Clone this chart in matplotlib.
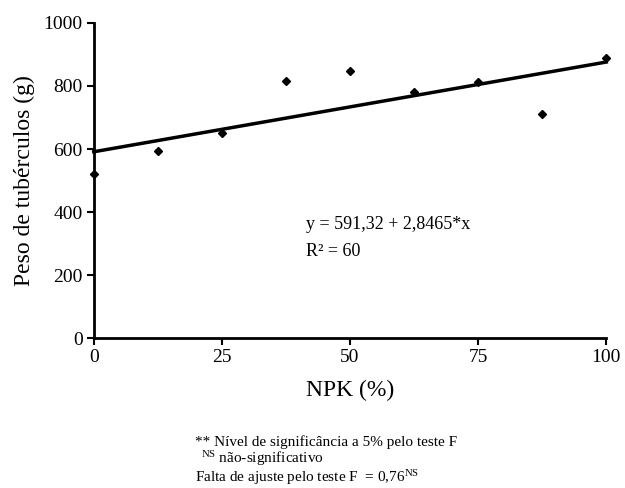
import matplotlib
matplotlib.use("Agg")
import matplotlib.pyplot as plt
import numpy as np

npk = [0, 12.5, 25, 37.5, 50, 62.5, 75, 87.5, 100]
peso = [520, 593, 652, 816, 848, 781, 813, 711, 889]
intercept = 591.32
slope = 2.8465
xticks = [0, 25, 50, 75, 100]
yticks = [0, 200, 400, 600, 800, 1000]

plt.rcParams['font.family'] = ['Liberation Serif', 'DejaVu Serif']
plt.rcParams['mathtext.fontset'] = 'custom'
plt.rcParams['mathtext.rm'] = 'Liberation Serif'
plt.rcParams['mathtext.it'] = 'Liberation Serif:italic'
plt.rcParams['mathtext.bf'] = 'Liberation Serif:bold'

fig = plt.figure(figsize=(6.25, 4.88), dpi=100)
ax = fig.add_axes([0.150, 0.307, 0.820, 0.646])

xl = np.array([0, 100])
ax.plot(xl, intercept + slope * xl, color='black', lw=2.5, zorder=2, clip_on=False)
ax.plot(npk, peso, linestyle='none', marker='D', ms=4, color='black', zorder=3, clip_on=False)

ax.set_xlim(0, 100)
ax.set_ylim(0, 1000)
ax.set_xticks(xticks)
ax.set_yticks(yticks)
for s in ['top', 'right']:
    ax.spines[s].set_visible(False)
for s in ['left', 'bottom']:
    ax.spines[s].set_linewidth(2)
ax.tick_params(direction='out', length=5, width=1.5, labelsize=14, pad=3)
ax.set_xlabel('NPK (%)', fontsize=17, labelpad=10)
ax.set_ylabel('Peso de tubérculos (g)', fontsize=17, labelpad=6)

ax.text(41.5, 360, 'y = 591,32 + 2,8465*x', fontsize=13, va='center')
ax.text(41.5, 275, 'R² = 60', fontsize=13, va='center')

fig.text(0.312, 1 - 442/488, '** Nível de significância a 5% pelo teste F', fontsize=11, va='center')
fig.text(0.322, 1 - 459/488, r'$^{\mathrm{NS}}$ não-significativo', fontsize=11, va='center')
fig.text(0.312, 1 - 478/488, r'Falta de ajuste pelo teste F  = 0,76$^{\mathrm{NS}}$', fontsize=11, va='center')

fig.savefig('out.png', dpi=100)
